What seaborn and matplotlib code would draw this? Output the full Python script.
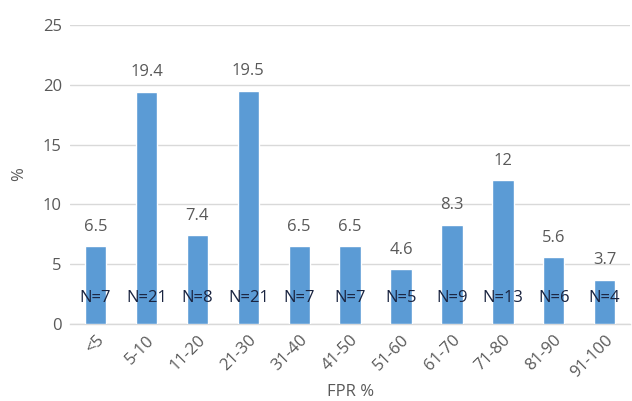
import matplotlib
matplotlib.use("Agg")
import matplotlib.pyplot as plt
import seaborn as sns
import pandas as pd

categories = ["<5", "5-10", "11-20", "21-30", "31-40", "41-50",
              "51-60", "61-70", "71-80", "81-90", "91-100"]
percent = [6.5, 19.4, 7.4, 19.5, 6.5, 6.5, 4.6, 8.3, 12, 5.6, 3.7]
counts = [7, 21, 8, 21, 7, 7, 5, 9, 13, 6, 4]
y_ticks = [0, 5, 10, 15, 20, 25]

df = pd.DataFrame({"FPR": categories, "pct": percent, "n": counts})

sns.set_theme(style="white")
plt.rcParams["font.family"] = ["Open Sans", "DejaVu Sans"]

fig = plt.figure(figsize=(6.32, 4.01), dpi=100)
ax = fig.add_axes([0.111, 0.192, 0.886, 0.746])

sns.barplot(data=df, x="FPR", y="pct", color="#5b9bd5", saturation=1,
            width=0.42, ax=ax, zorder=3)

ax.set_ylim(0, 25)
ax.set_yticks(y_ticks)
ax.set_xlim(-0.5, len(categories) - 0.5)
ax.yaxis.grid(True, color="#d9d9d9", linewidth=1.0, zorder=0)
for side in ["top", "right", "left"]:
    ax.spines[side].set_visible(False)
ax.spines["bottom"].set_color("#d9d9d9")
ax.spines["bottom"].set_linewidth(1.0)

text_gray = "#595959"
ax.tick_params(axis="both", length=0, labelsize=12, colors=text_gray, pad=6)
plt.setp(ax.get_xticklabels(), rotation=45, ha="right", rotation_mode="anchor")

ax.set_xlabel("FPR %", fontsize=12, color=text_gray, labelpad=2)
ax.set_ylabel("%", fontsize=12, color=text_gray, labelpad=11)

for i, (p, n) in enumerate(zip(percent, counts)):
    label = f"{p:g}"
    ax.annotate(label, (i, p), xytext=(0, 14), textcoords="offset points",
                ha="center", va="center", fontsize=12, color=text_gray)
    ax.text(i, 2.2, f"N={n}", ha="center", va="center", fontsize=12,
            color="#1a2440", zorder=4)

fig.savefig("out.png", dpi=100)
